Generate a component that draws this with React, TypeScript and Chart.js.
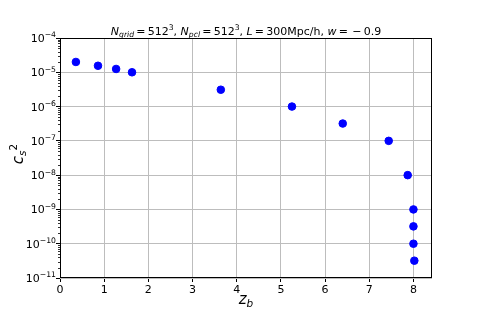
import React, { useEffect, useRef } from "react";
import { Chart, registerables } from "chart.js";

Chart.register(...registerables);

const zValues = [0.36, 0.86, 1.27, 1.63, 3.64, 5.25, 6.4, 7.44, 7.87, 8.0, 8.0, 8.0, 8.02];
const cs2Values = [2e-5, 1.55e-5, 1.25e-5, 1e-5, 3.1e-6, 1e-6, 3.2e-7, 1e-7, 1e-8, 1e-9, 3.2e-10, 1e-10, 3.2e-11];
const xTicks = [0, 1, 2, 3, 4, 5, 6, 7, 8];
const yExponents = [-11, -10, -9, -8, -7, -6, -5, -4];

const FONT = "'DejaVu Sans', sans-serif";

type Seg = { t: string; it?: boolean; sub?: boolean; sup?: boolean };

function segFont(seg: Seg, size: number) {
  const s = seg.sub || seg.sup ? size * 0.7 : size;
  return `${seg.it ? "italic " : ""}${s}px ${FONT}`;
}

function richWidth(ctx: CanvasRenderingContext2D, segs: Seg[], size: number) {
  let total = 0;
  segs.forEach((sg) => {
    ctx.font = segFont(sg, size);
    total += ctx.measureText(sg.t).width;
  });
  return total;
}

function drawRich(ctx: CanvasRenderingContext2D, segs: Seg[], x0: number, y: number, size: number, align: "center" | "right" = "center") {
  ctx.save();
  ctx.textBaseline = "alphabetic";
  ctx.textAlign = "left";
  const total = richWidth(ctx, segs, size);
  let x = align === "center" ? x0 - total / 2 : x0 - total;
  segs.forEach((sg) => {
    ctx.font = segFont(sg, size);
    const dy = sg.sub ? size * 0.22 : sg.sup ? -size * 0.42 : 0;
    ctx.fillText(sg.t, x, y + dy);
    x += ctx.measureText(sg.t).width;
  });
  ctx.restore();
}

const titleSegs: Seg[] = [
  { t: "N", it: true }, { t: "grid", it: true, sub: true }, { t: "\u2009=\u2009512" }, { t: "3", sup: true },
  { t: ", " }, { t: "N", it: true }, { t: "pcl", it: true, sub: true }, { t: "\u2009=\u2009512" }, { t: "3", sup: true },
  { t: ", " }, { t: "L", it: true }, { t: "\u2009=\u2009300Mpc/h, " }, { t: "w", it: true }, { t: "\u2009=\u2009\u2009\u2212\u20090.9" },
];
const xLabelSegs: Seg[] = [{ t: "z", it: true }, { t: "b", it: true, sub: true }];
const yLabelSegs: Seg[] = [{ t: "c", it: true }, { t: "s", it: true, sub: true }, { t: "2", sup: true }];

const decorPlugin = {
  id: "decor",
  afterDraw(chart: any) {
    const ctx: CanvasRenderingContext2D = chart.ctx;
    const area = chart.chartArea;
    const ys = chart.scales.y;
    ctx.save();
    ctx.fillStyle = "#000";
    ctx.strokeStyle = "#000";
    ctx.lineWidth = 0.8;
    // minor ticks on y axis
    for (let e = -11; e < -4; e++) {
      for (let m = 2; m <= 9; m++) {
        const py = Math.round(ys.getPixelForValue(m * Math.pow(10, e))) + 0.5;
        ctx.beginPath();
        ctx.moveTo(area.left - 2, py);
        ctx.lineTo(area.left, py);
        ctx.stroke();
      }
    }
    // y tick labels with superscript exponents
    yExponents.forEach((e) => {
      const py = ys.getPixelForValue(Math.pow(10, e));
      const segs: Seg[] = [{ t: "10" }, { t: "\u2212" + Math.abs(e), sup: true }];
      drawRich(ctx, segs, area.left - 4, py + 4, 11, "right");
    });
    // frame
    ctx.lineWidth = 1;
    ctx.strokeRect(area.left + 0.5, area.top + 0.5, area.right - area.left - 1, area.bottom - area.top - 1);
    // title
    drawRich(ctx, titleSegs, (area.left + area.right) / 2, 35, 11);
    // x label
    drawRich(ctx, xLabelSegs, (area.left + area.right) / 2, 304, 15);
    // y label
    ctx.save();
    ctx.translate(23, (area.top + area.bottom) / 2 - 4);
    ctx.rotate(-Math.PI / 2);
    drawRich(ctx, yLabelSegs, 0, 0, 15);
    ctx.restore();
    ctx.restore();
  },
};

export default function App() {
  const ref = useRef<HTMLCanvasElement>(null);
  useEffect(() => {
    if (!ref.current) return;
    const chart = new Chart(ref.current, {
      type: "scatter",
      data: {
        datasets: [
          {
            data: zValues.map((z, i) => ({ x: z, y: cs2Values[i] })),
            backgroundColor: "#0000ff",
            borderColor: "#0000ff",
            pointRadius: 3.8,
            pointHoverRadius: 3.8,
          },
        ],
      },
      options: {
        animation: false,
        responsive: false,
        events: [],
        layout: { padding: { left: 0, right: 48, top: 38, bottom: 0 } },
        plugins: { legend: { display: false }, tooltip: { enabled: false }, title: { display: false } },
        scales: {
          x: {
            type: "linear",
            min: 0,
            max: 8.42,
            afterBuildTicks: (s: any) => {
              s.ticks = xTicks.map((v) => ({ value: v }));
            },
            afterFit: (s: any) => {
              s.height = 42;
            },
            grid: { color: "#bdbdbd", lineWidth: 1, tickColor: "#000", tickLength: 4, drawTicks: true },
            border: { display: false },
            ticks: { color: "#000", font: { family: FONT, size: 11 }, padding: 2, maxRotation: 0, autoSkip: false },
          },
          y: {
            type: "logarithmic",
            min: 1e-11,
            max: 1e-4,
            afterBuildTicks: (s: any) => {
              s.ticks = yExponents.map((e) => ({ value: Math.pow(10, e) }));
            },
            afterFit: (s: any) => {
              s.width = 60;
            },
            grid: { color: "#bdbdbd", lineWidth: 1, tickColor: "#000", tickLength: 4, drawTicks: true },
            border: { display: false },
            ticks: { display: false },
          },
        },
      },
      plugins: [decorPlugin],
    });
    return () => chart.destroy();
  }, []);
  return (
    <div style={{ position: "fixed", left: 0, top: 0, width: 480, height: 320, background: "#fff" }}>
      <canvas ref={ref} width={480} height={320} style={{ width: 480, height: 320 }} />
    </div>
  );
}
